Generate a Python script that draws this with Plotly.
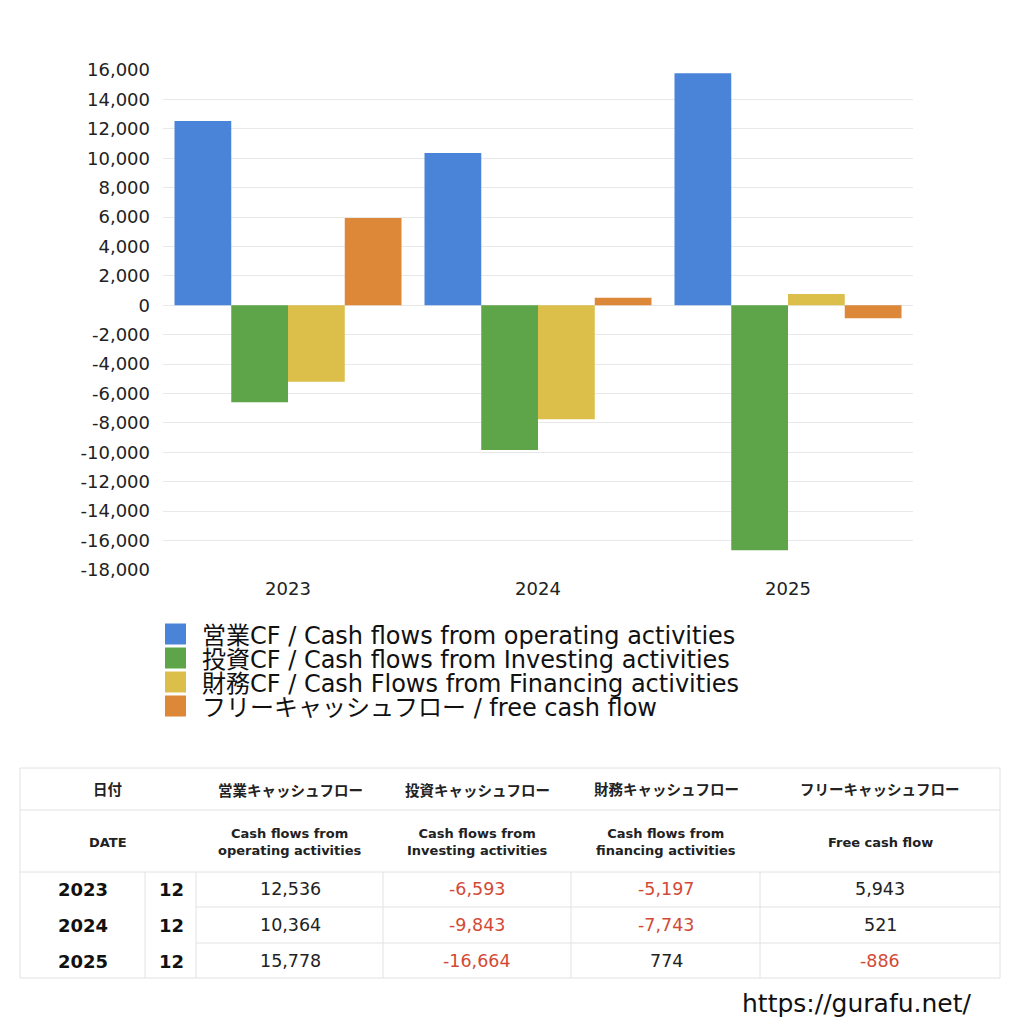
import plotly.graph_objects as go

# ---------------- data ----------------
years = ["2023", "2024", "2025"]
months = ["12", "12", "12"]
operating_cf = [12536, 10364, 15778]
investing_cf = [-6593, -9843, -16664]
financing_cf = [-5197, -7743, 774]
free_cf = [5943, 521, -886]

series_names = [
    "営業CF / Cash flows from operating activities",
    "投資CF / Cash flows from Investing activities",
    "財務CF / Cash Flows from Financing activities",
    "フリーキャッシュフロー / free cash flow",
]
series_values = [operating_cf, investing_cf, financing_cf, free_cf]
series_colors = ["#4a84d9", "#5ea449", "#dbbf4a", "#dd8738"]

y_tick_values = [16000, 14000, 12000, 10000, 8000, 6000, 4000, 2000, 0,
                 -2000, -4000, -6000, -8000, -10000, -12000, -14000, -16000, -18000]
y_tick_labels = ["16,000", "14,000", "12,000", "10,000", "8,000", "6,000", "4,000",
                 "2,000", "0", "-2,000", "-4,000", "-6,000", "-8,000", "-10,000",
                 "-12,000", "-14,000", "-16,000", "-18,000"]

table_head_jp = ["日付", "営業キャッシュフロー", "投資キャッシュフロー",
                 "財務キャッシュフロー", "フリーキャッシュフロー"]
table_head_en = ["DATE", "Cash flows from<br>operating activities",
                 "Cash flows from<br>Investing activities",
                 "Cash flows from<br>financing activities", "Free cash flow"]
site_url = "https://gurafu.net/"

FONT = "DejaVu Sans, Noto Sans CJK JP"
W = H = 1024


def px(x):
    return x / W


def py(y):
    return 1 - y / H


fig = go.Figure()
for name, vals, col in zip(series_names, series_values, series_colors):
    fig.add_trace(go.Bar(x=years, y=vals, name=name, marker=dict(color=col, line=dict(width=0))))

fig.update_layout(
    width=W, height=H,
    margin=dict(l=0, r=0, t=0, b=0, pad=0, autoexpand=False),
    paper_bgcolor="white", plot_bgcolor="white",
    barmode="group", bargap=0.092, bargroupgap=0,
    showlegend=False,
    font=dict(family=FONT, color="#222222"),
    xaxis=dict(domain=[px(163), px(913)], showgrid=False, showline=False, zeroline=False,
               automargin=False, ticks="", tickfont=dict(size=18, color="#222222"),
               ticklabelstandoff=6),
    yaxis=dict(domain=[py(570), py(70)], range=[-18000, 16000], tickvals=y_tick_values,
               ticktext=y_tick_labels, showgrid=True, gridcolor="#e8e8e8", gridwidth=1,
               zeroline=False, showline=False, ticks="", automargin=False,
               tickfont=dict(size=18, color="#222222"), ticklabelstandoff=12),
)

shapes = []
annotations = []

# ---------------- legend (manual, bigger swatches) ----------------
legend_y = [634, 658, 682, 706]
for col, yc in zip(series_colors, legend_y):
    shapes.append(dict(type="rect", xref="paper", yref="paper",
                       x0=px(165), x1=px(186), y0=py(yc - 10.5), y1=py(yc + 10.5),
                       fillcolor=col, line=dict(width=0)))
legend_text = "<br>".join("<span style='font-size:24px'>" + n + "</span>" for n in series_names)
annotations.append(dict(xref="paper", yref="paper", x=px(201), y=py(legend_y[0] - 13),
                        text=legend_text, showarrow=False, xanchor="left", yanchor="top",
                        align="left", borderpad=0,
                        font=dict(size=24 / 1.3, color="#111111", family=FONT)))

# ---------------- table ----------------
border = "#e2e2e2"
TL, TR, TT, TB = 20, 1000, 768, 978
shapes.append(dict(type="rect", xref="paper", yref="paper", x0=px(TL), x1=px(TR),
                   y0=py(TT), y1=py(TB), line=dict(color=border, width=1)))
for yy in [810, 872]:
    shapes.append(dict(type="line", xref="paper", yref="paper", x0=px(TL), x1=px(TR),
                       y0=py(yy), y1=py(yy), line=dict(color=border, width=1)))
for yy in [907, 943]:
    shapes.append(dict(type="line", xref="paper", yref="paper", x0=px(196), x1=px(TR),
                       y0=py(yy), y1=py(yy), line=dict(color=border, width=1)))
for xx in [145, 196, 383, 571, 760]:
    shapes.append(dict(type="line", xref="paper", yref="paper", x0=px(xx), x1=px(xx),
                       y0=py(872), y1=py(TB), line=dict(color=border, width=1)))

head_x = [108, 290, 477, 666, 880]
for txt, xx in zip(table_head_jp, head_x):
    annotations.append(dict(xref="paper", yref="paper", x=px(xx), y=py(790),
                            text="<b>" + txt + "</b>", showarrow=False,
                            xanchor="center", yanchor="middle",
                            font=dict(size=14.5, color="#222222", family=FONT)))
for txt, xx in zip(table_head_en, head_x):
    annotations.append(dict(xref="paper", yref="paper", x=px(xx), y=py(842),
                            text="<b>" + txt + "</b>", showarrow=False,
                            xanchor="center", yanchor="middle", align="center",
                            font=dict(size=13, color="#222222", family=FONT)))

row_y = [889, 925, 961]
val_x = [290, 477, 666, 880]
for i, yc in enumerate(row_y):
    annotations.append(dict(xref="paper", yref="paper", x=px(83), y=py(yc),
                            text="<b>" + years[i] + "</b>", showarrow=False,
                            xanchor="center", yanchor="middle",
                            font=dict(size=18, color="#111111", family=FONT)))
    annotations.append(dict(xref="paper", yref="paper", x=px(171), y=py(yc),
                            text="<b>" + months[i] + "</b>", showarrow=False,
                            xanchor="center", yanchor="middle",
                            font=dict(size=18, color="#111111", family=FONT)))
    for vals, xx in zip(series_values, val_x):
        v = vals[i]
        annotations.append(dict(xref="paper", yref="paper", x=px(xx), y=py(yc),
                                text=f"{v:,}", showarrow=False,
                                xanchor="center", yanchor="middle",
                                font=dict(size=17.5, family=FONT,
                                          color="#d24a36" if v < 0 else "#222222")))

annotations.append(dict(xref="paper", yref="paper", x=px(973), y=py(1003), text=site_url,
                        showarrow=False, xanchor="right", yanchor="middle", borderpad=0,
                        font=dict(size=25, color="#111111", family=FONT)))

fig.update_layout(shapes=shapes, annotations=annotations)
fig.write_html("out.html")
